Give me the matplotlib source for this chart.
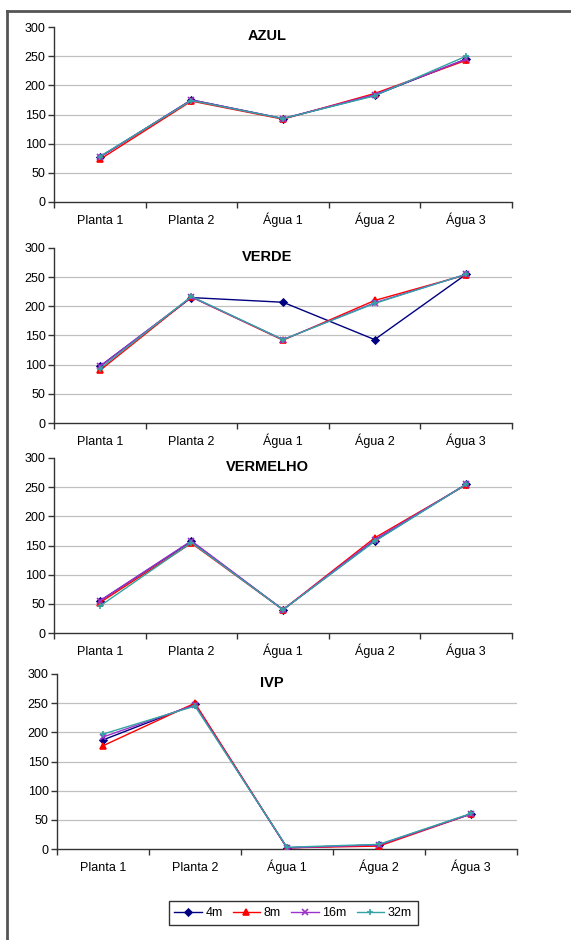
import matplotlib
matplotlib.use("Agg")
import matplotlib.pyplot as plt
from matplotlib.lines import Line2D

plt.rcParams['font.family'] = ['Liberation Sans', 'DejaVu Sans']

categories = ["Planta 1", "Planta 2", "Água 1", "Água 2", "Água 3"]
series_names = ["4m", "8m", "16m", "32m"]

azul_4m = [77, 175, 143, 183, 245]
azul_8m = [73, 173, 142, 186, 243]
azul_16m = [77, 175, 143, 184, 245]
azul_32m = [78, 174, 143, 182, 250]

verde_4m = [97, 215, 207, 143, 255]
verde_8m = [90, 216, 142, 210, 254]
verde_16m = [97, 216, 143, 206, 255]
verde_32m = [93, 217, 143, 205, 255]

vermelho_4m = [55, 157, 40, 158, 255]
vermelho_8m = [52, 154, 40, 163, 254]
vermelho_16m = [55, 158, 40, 160, 255]
vermelho_32m = [46, 155, 40, 157, 255]

ivp_4m = [187, 248, 2, 7, 60]
ivp_8m = [177, 250, 2, 5, 60]
ivp_16m = [192, 247, 2, 7, 60]
ivp_32m = [197, 245, 3, 8, 61]

panels = [
    ("AZUL", [azul_4m, azul_8m, azul_16m, azul_32m]),
    ("VERDE", [verde_4m, verde_8m, verde_16m, verde_32m]),
    ("VERMELHO", [vermelho_4m, vermelho_8m, vermelho_16m, vermelho_32m]),
    ("IVP", [ivp_4m, ivp_8m, ivp_16m, ivp_32m]),
]

colors = ["#000080", "#FF0000", "#9933CC", "#33A3A3"]
markers = ["D", "^", "x", "+"]
msizes = [3.5, 5, 4, 5]

W, H = 571, 940
fig = plt.figure(figsize=(W / 100, H / 100), dpi=100)

# axes rectangles in pixels: left, right, top(300), bottom(0)
rects = [(54, 512, 27, 202), (54, 512, 248, 423), (54, 512, 458, 633), (57, 517, 674, 849)]

xpos = [i + 0.5 for i in range(len(categories))]
handles = []
for (title, data), (l, r, t, b) in zip(panels, rects):
    ax = fig.add_axes([l / W, 1 - b / H, (r - l) / W, (b - t) / H])
    for k, ys in enumerate(data):
        h, = ax.plot(xpos, ys, color=colors[k], marker=markers[k], ms=msizes[k],
                     lw=1.0, mew=1.2, label=series_names[k], zorder=3 + k)
        if title == "IVP":
            handles.append(h)
    ax.set_xlim(0, 5)
    ax.set_ylim(0, 300)
    ax.set_yticks(range(0, 301, 50))
    ax.set_xticks(range(6))
    ax.set_xticklabels([])
    ax.set_xticks(xpos, minor=True)
    ax.set_xticklabels(categories, minor=True, fontsize=9)
    for lbl in ax.get_xticklabels(minor=True):
        lbl.set_va('baseline')
    ax.tick_params(axis='x', which='minor', length=0, pad=16)
    ax.tick_params(axis='x', which='major', length=4, direction='out', width=1, color='#333333')
    ax.tick_params(axis='y', length=4, direction='out', width=1, color='#333333', labelsize=9, pad=2)
    for yv in range(50, 251, 50):
        ax.axhline(yv, color='#c0c0c0', lw=0.9, zorder=1)
    for s in ['top', 'right']:
        ax.spines[s].set_visible(False)
    for s in ['left', 'bottom']:
        ax.spines[s].set_color('#333333')
        ax.spines[s].set_linewidth(1.0)
    ax.text(2.33, 284, title, ha='center', va='center', fontsize=10.5, fontweight='bold')

leg = fig.legend(handles=handles, loc='center', bbox_to_anchor=(293 / W, 1 - 913 / H),
                 ncol=4, fontsize=9, frameon=True, fancybox=False, edgecolor='black',
                 handlelength=2.2, handletextpad=0.3, columnspacing=0.8, borderpad=0.45)
leg.get_frame().set_linewidth(1.0)

# outer frame (left and top edges)
fig.add_artist(Line2D([7 / W, 7 / W], [1 - 11 / H, 0], color='#555555', lw=2, transform=fig.transFigure))
fig.add_artist(Line2D([7 / W, 1], [1 - 11 / H, 1 - 11 / H], color='#555555', lw=2, transform=fig.transFigure))

fig.savefig("out.png", dpi=100)
